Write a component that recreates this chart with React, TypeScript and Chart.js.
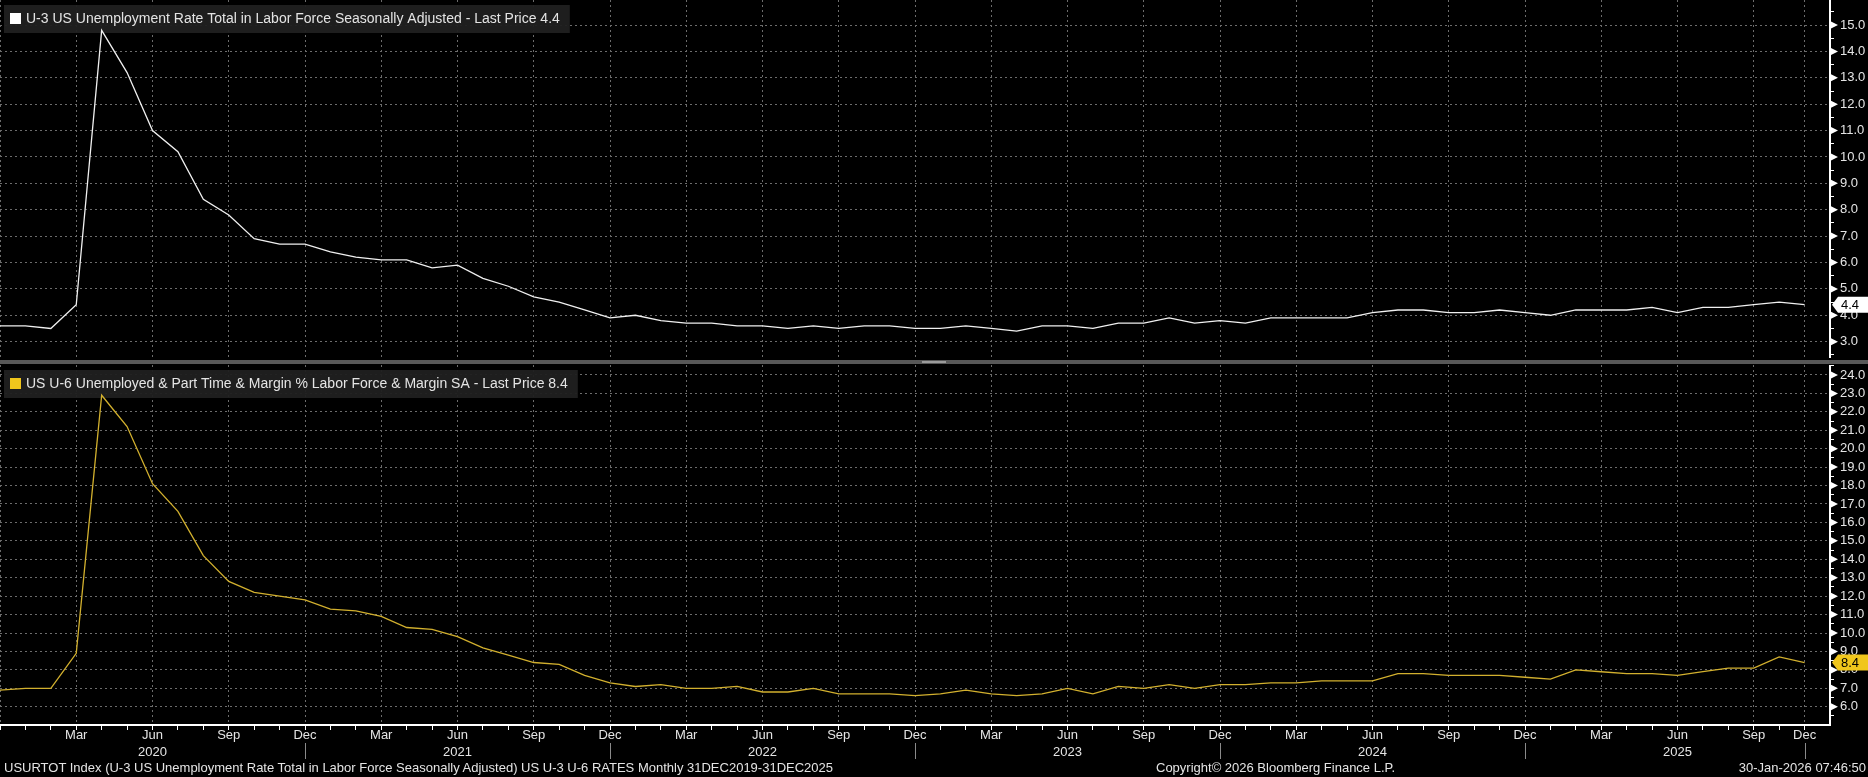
import React, { useEffect, useRef } from 'react';
import { Chart, registerables } from 'chart.js';

Chart.register(...registerables);

// ---------- data ----------
const DATES: string[] = [
  'Dec 2019',
  'Jan 2020', 'Feb 2020', 'Mar 2020', 'Apr 2020', 'May 2020', 'Jun 2020', 'Jul 2020', 'Aug 2020', 'Sep 2020', 'Oct 2020', 'Nov 2020', 'Dec 2020',
  'Jan 2021', 'Feb 2021', 'Mar 2021', 'Apr 2021', 'May 2021', 'Jun 2021', 'Jul 2021', 'Aug 2021', 'Sep 2021', 'Oct 2021', 'Nov 2021', 'Dec 2021',
  'Jan 2022', 'Feb 2022', 'Mar 2022', 'Apr 2022', 'May 2022', 'Jun 2022', 'Jul 2022', 'Aug 2022', 'Sep 2022', 'Oct 2022', 'Nov 2022', 'Dec 2022',
  'Jan 2023', 'Feb 2023', 'Mar 2023', 'Apr 2023', 'May 2023', 'Jun 2023', 'Jul 2023', 'Aug 2023', 'Sep 2023', 'Oct 2023', 'Nov 2023', 'Dec 2023',
  'Jan 2024', 'Feb 2024', 'Mar 2024', 'Apr 2024', 'May 2024', 'Jun 2024', 'Jul 2024', 'Aug 2024', 'Sep 2024', 'Oct 2024', 'Nov 2024', 'Dec 2024',
  'Jan 2025', 'Feb 2025', 'Mar 2025', 'Apr 2025', 'May 2025', 'Jun 2025', 'Jul 2025', 'Aug 2025', 'Sep 2025', 'Nov 2025', 'Dec 2025',
];

const U3: number[] = [
  3.6,
  3.6, 3.5, 4.4, 14.8, 13.2, 11.0, 10.2, 8.4, 7.8, 6.9, 6.7, 6.7,
  6.4, 6.2, 6.1, 6.1, 5.8, 5.9, 5.4, 5.1, 4.7, 4.5, 4.2, 3.9,
  4.0, 3.8, 3.7, 3.7, 3.6, 3.6, 3.5, 3.6, 3.5, 3.6, 3.6, 3.5,
  3.5, 3.6, 3.5, 3.4, 3.6, 3.6, 3.5, 3.7, 3.7, 3.9, 3.7, 3.8,
  3.7, 3.9, 3.9, 3.9, 3.9, 4.1, 4.2, 4.2, 4.1, 4.1, 4.2, 4.1,
  4.0, 4.2, 4.2, 4.2, 4.3, 4.1, 4.3, 4.3, 4.4, 4.5, 4.4,
];

const U6: number[] = [
  6.9,
  7.0, 7.0, 8.9, 22.9, 21.2, 18.1, 16.6, 14.2, 12.8, 12.2, 12.0, 11.8,
  11.3, 11.2, 10.9, 10.3, 10.2, 9.8, 9.2, 8.8, 8.4, 8.3, 7.7, 7.3,
  7.1, 7.2, 7.0, 7.0, 7.1, 6.8, 6.8, 7.0, 6.7, 6.7, 6.7, 6.6,
  6.7, 6.9, 6.7, 6.6, 6.7, 7.0, 6.7, 7.1, 7.0, 7.2, 7.0, 7.2,
  7.2, 7.3, 7.3, 7.4, 7.4, 7.4, 7.8, 7.8, 7.7, 7.7, 7.7, 7.6,
  7.5, 8.0, 7.9, 7.8, 7.8, 7.7, 7.9, 8.1, 8.1, 8.7, 8.4,
];

const U3_TICK_LABELS: number[] = [3, 4, 5, 6, 7, 8, 9, 10, 11, 12, 13, 14, 15];
const U6_TICK_LABELS: number[] = [6, 7, 8, 9, 10, 11, 12, 13, 14, 15, 16, 17, 18, 19, 20, 21, 22, 23, 24];
const QUARTER_MONTHS: string[] = ['Mar', 'Jun', 'Sep', 'Dec'];
const YEAR_MONTH = 'Jun';

const U3_TITLE = 'U-3 US Unemployment Rate Total in Labor Force Seasonally Adjusted - Last Price 4.4';
const U6_TITLE = 'US U-6 Unemployed & Part Time & Margin % Labor Force & Margin SA - Last Price 8.4';
const FOOT_LEFT = 'USURTOT Index (U-3 US Unemployment Rate Total in Labor Force Seasonally Adjusted) US U-3 U-6 RATES Monthly 31DEC2019-31DEC2025';
const FOOT_MID = 'Copyright\u00A9 2026 Bloomberg Finance L.P.';
const FOOT_RIGHT = '30-Jan-2026 07:46:50';

// ---------- style ----------
const FONT = '"Liberation Sans", Arial, sans-serif';
const TEXT = '#e4e4e4';
const GRID = '#6c6c6c';
const U3_COLOR = '#f0f0f0';
const U6_COLOR = '#d2b02e';
const U6_TAG = '#f0c61c';
const AXIS_W = 38;

const withHalves = (labels: number[]) => {
  const out: number[] = [];
  labels.forEach((v) => { out.push(v - 0.5); out.push(v); });
  out.push(labels[labels.length - 1] + 0.5);
  return out;
};

const monthOf = (i: number) => (DATES[i] || '').split(' ')[0];
const isQuarter = (i: number) => QUARTER_MONTHS.includes(monthOf(i));

const xLabel = (i: number): string | string[] => {
  if (i <= 0 || i >= DATES.length) return '';
  const [m, y] = DATES[i].split(' ');
  if (!QUARTER_MONTHS.includes(m)) return '';
  return m === YEAR_MONTH ? [m, y] : m;
};

const panelPlugin = (title: string, swatch: string, tagColor: string, lastValue: number, showYears: boolean) => ({
  id: 'panelDecor',
  beforeDatasetsDraw(chart: any) {
    const ctx = chart.ctx as CanvasRenderingContext2D;
    ctx.save();
    ctx.font = `14px ${FONT}`;
    const tw = ctx.measureText(title).width;
    ctx.fillStyle = 'rgba(32,32,32,0.95)';
    ctx.fillRect(4, 5, tw + 32, 28);
    ctx.fillStyle = swatch;
    ctx.fillRect(10, 13, 11, 11);
    ctx.fillStyle = TEXT;
    ctx.textBaseline = 'middle';
    ctx.textAlign = 'left';
    ctx.fillText(title, 26, 19);
    ctx.restore();
  },
  afterDraw(chart: any) {
    const ctx = chart.ctx as CanvasRenderingContext2D;
    const ys = chart.scales.y;
    const W = chart.width;
    ctx.save();
    // tick triangles
    ctx.fillStyle = '#ffffff';
    ys.ticks.forEach((t: any) => {
      if (Math.abs(t.value - Math.round(t.value)) > 1e-6) return;
      const y = ys.getPixelForValue(t.value);
      ctx.beginPath();
      ctx.moveTo(ys.left + 1, y - 3.5);
      ctx.lineTo(ys.left + 8, y);
      ctx.lineTo(ys.left + 1, y + 3.5);
      ctx.closePath();
      ctx.fill();
    });
    // last price tag
    const y = ys.getPixelForValue(lastValue);
    const x0 = ys.left + 2;
    ctx.fillStyle = tagColor;
    ctx.beginPath();
    ctx.moveTo(x0, y);
    ctx.lineTo(x0 + 6, y - 8);
    ctx.lineTo(W, y - 8);
    ctx.lineTo(W, y + 8);
    ctx.lineTo(x0 + 6, y + 8);
    ctx.closePath();
    ctx.fill();
    ctx.fillStyle = '#000';
    ctx.font = `13px ${FONT}`;
    ctx.textBaseline = 'middle';
    ctx.textAlign = 'left';
    ctx.fillText(lastValue.toFixed(1), x0 + 9, y + 1);
    // year separators under the x axis
    if (showYears) {
      const xs = chart.scales.x;
      const base = chart.chartArea.bottom;
      ctx.strokeStyle = '#8a8a8a';
      ctx.lineWidth = 1;
      DATES.forEach((_, i) => {
        if (i === 0 || monthOf(i) !== 'Dec') return;
        const x = Math.round(xs.getPixelForValue(i)) + 0.5;
        ctx.beginPath();
        ctx.moveTo(x, base + 18);
        ctx.lineTo(x, base + 34);
        ctx.stroke();
      });
    }
    ctx.restore();
  },
});

const makeConfig = (
  values: number[],
  color: string,
  min: number,
  max: number,
  tickLabels: number[],
  bottom: boolean,
  plugin: any,
): any => ({
  type: 'line',
  data: {
    datasets: [
      {
        data: values.map((v, i) => ({ x: i, y: v })),
        borderColor: color,
        borderWidth: 1.3,
        pointRadius: 0,
        tension: 0,
        fill: false,
      },
    ],
  },
  options: {
    animation: false,
    responsive: false,
    maintainAspectRatio: false,
    layout: { padding: 0 },
    plugins: { legend: { display: false }, tooltip: { enabled: false }, title: { display: false } },
    scales: {
      x: {
        type: 'linear',
        min: 0,
        max: DATES.length,
        afterBuildTicks: (s: any) => { s.ticks = DATES.map((_, i) => ({ value: i })); },
        afterFit: (s: any) => {
          s.height = bottom ? 52 : 0;
          s.paddingLeft = 0;
          s.paddingRight = 0;
        },
        ticks: {
          display: bottom,
          autoSkip: false,
          maxRotation: 0,
          minRotation: 0,
          padding: -3,
          color: TEXT,
          font: { family: FONT, size: 13, lineHeight: 1.3 },
          callback: (v: number) => xLabel(v),
        },
        grid: {
          color: (c: any) => (c.tick && isQuarter(c.tick.value) ? GRID : 'rgba(0,0,0,0)'),
          lineWidth: 1,
          drawTicks: bottom,
          tickLength: 5,
          tickColor: '#ffffff',
          tickWidth: 1,
        },
        border: { display: bottom, color: '#ffffff', width: 2, dash: [2, 3] },
      },
      y: {
        type: 'linear',
        position: 'right',
        min,
        max,
        afterBuildTicks: (s: any) => { s.ticks = withHalves(tickLabels).map((v) => ({ value: v })); },
        afterFit: (s: any) => {
          s.width = AXIS_W;
          s.paddingTop = 0;
          s.paddingBottom = 0;
        },
        ticks: {
          autoSkip: false,
          padding: 6,
          color: TEXT,
          font: { family: FONT, size: 13 },
          callback: (v: number) => (Math.abs(v - Math.round(v)) < 1e-6 ? v.toFixed(1) : ''),
        },
        grid: {
          color: (c: any) => (c.tick && Math.abs(c.tick.value - Math.round(c.tick.value)) < 1e-6 ? GRID : 'rgba(0,0,0,0)'),
          lineWidth: 1,
          drawTicks: true,
          tickLength: 4,
          tickColor: '#ffffff',
          tickWidth: 1,
        },
        border: { display: true, color: '#ffffff', width: 2, dash: [2, 3] },
      },
    },
  },
  plugins: [plugin],
});

export default function App() {
  const topRef = useRef<HTMLCanvasElement>(null);
  const botRef = useRef<HTMLCanvasElement>(null);

  useEffect(() => {
    document.body.style.margin = '0';
    document.body.style.background = '#000';
    const top = new Chart(
      topRef.current as HTMLCanvasElement,
      makeConfig(U3, U3_COLOR, 2.38, 15.95, U3_TICK_LABELS, false,
        panelPlugin(U3_TITLE, '#ffffff', '#ffffff', U3[U3.length - 1], false)),
    );
    const bot = new Chart(
      botRef.current as HTMLCanvasElement,
      makeConfig(U6, U6_COLOR, 5.01, 24.54, U6_TICK_LABELS, true,
        panelPlugin(U6_TITLE, U6_TAG, U6_TAG, U6[U6.length - 1], true)),
    );
    return () => {
      top.destroy();
      bot.destroy();
    };
  }, []);

  const foot: React.CSSProperties = {
    position: 'absolute',
    top: 760,
    height: 16,
    lineHeight: '16px',
    fontSize: 13,
    color: TEXT,
    whiteSpace: 'nowrap',
    fontFamily: FONT,
  };

  return (
    <div style={{ position: 'fixed', left: 0, top: 0, width: 1868, height: 777, background: '#000', overflow: 'hidden' }}>
      <canvas ref={topRef} width={1868} height={358} style={{ position: 'absolute', left: 0, top: 0, width: 1868, height: 358 }} />
      <div style={{ position: 'absolute', left: 0, top: 360, width: 1868, height: 4, background: '#585858' }} />
      <div style={{ position: 'absolute', left: 922, top: 361, width: 24, height: 2, background: '#9a9a9a' }} />
      <canvas ref={botRef} width={1868} height={412} style={{ position: 'absolute', left: 0, top: 365, width: 1868, height: 412 }} />
      <div style={{ ...foot, left: 4 }}>{FOOT_LEFT}</div>
      <div style={{ ...foot, left: 1156 }}>{FOOT_MID}</div>
      <div style={{ ...foot, right: 2 }}>{FOOT_RIGHT}</div>
    </div>
  );
}
